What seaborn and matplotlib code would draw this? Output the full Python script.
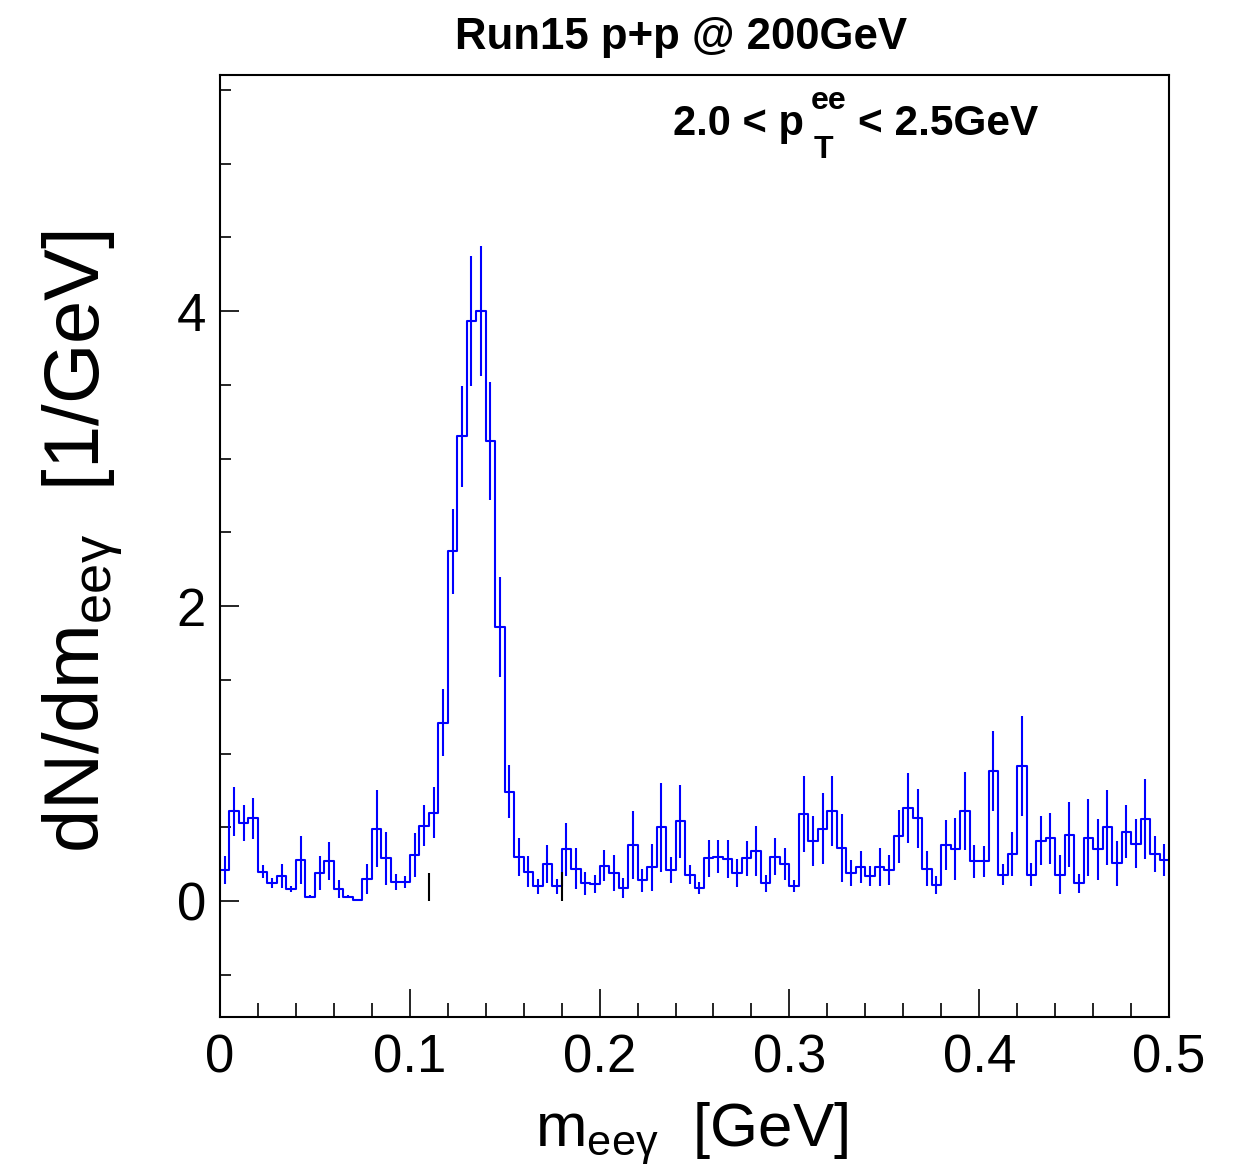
import numpy as np
import pandas as pd
import matplotlib
matplotlib.use("Agg")
import matplotlib.pyplot as plt
import seaborn as sns
from matplotlib.ticker import MultipleLocator

sns.set_theme(style="white")
plt.rcParams['font.family'] = ['Liberation Sans', 'DejaVu Sans']
plt.rcParams['mathtext.fontset'] = 'custom'
plt.rcParams['mathtext.rm'] = 'Liberation Sans'
plt.rcParams['mathtext.it'] = 'Liberation Sans:italic'
plt.rcParams['mathtext.bf'] = 'Liberation Sans:bold'
for k in ['text.color', 'axes.labelcolor', 'xtick.color', 'ytick.color']:
    plt.rcParams[k] = 'black'

# ---- data ----
bin_lo = 0.0
bin_hi = 0.5
bin_width = 0.005
counts = [0.21, 0.61, 0.53, 0.56, 0.20, 0.12, 0.17, 0.08, 0.28, 0.03,
          0.19, 0.27, 0.08, 0.03, 0.01, 0.15, 0.49, 0.29, 0.13, 0.13,
          0.31, 0.51, 0.60, 1.21, 2.37, 3.15, 3.93, 4.00, 3.12, 1.86,
          0.74, 0.30, 0.20, 0.10, 0.25, 0.10, 0.35, 0.22, 0.12, 0.115,
          0.24, 0.19, 0.09, 0.38, 0.14, 0.23, 0.50, 0.21, 0.54, 0.18,
          0.09, 0.29, 0.30, 0.285, 0.19, 0.29, 0.34, 0.12, 0.30, 0.25,
          0.10, 0.59, 0.41, 0.49, 0.61, 0.36, 0.19, 0.23, 0.17, 0.23,
          0.21, 0.44, 0.63, 0.56, 0.22, 0.11, 0.38, 0.35, 0.61, 0.27,
          0.27, 0.88, 0.18, 0.32, 0.915, 0.18, 0.41, 0.425, 0.18, 0.45,
          0.12, 0.43, 0.35, 0.50, 0.255, 0.47, 0.39, 0.555, 0.32, 0.28]
errors = [0.096, 0.166, 0.12, 0.14, 0.045, 0.034, 0.08, 0.02, 0.163, 0.01,
          0.113, 0.128, 0.062, 0.01, 0.005, 0.10, 0.26, 0.18, 0.056, 0.04,
          0.15, 0.14, 0.17, 0.23, 0.29, 0.34, 0.44, 0.44, 0.40, 0.34,
          0.18, 0.13, 0.106, 0.05, 0.127, 0.05, 0.18, 0.14, 0.08, 0.06,
          0.107, 0.12, 0.068, 0.23, 0.077, 0.16, 0.30, 0.09, 0.25, 0.064,
          0.04, 0.127, 0.113, 0.13, 0.093, 0.12, 0.17, 0.06, 0.125, 0.107,
          0.04, 0.26, 0.17, 0.24, 0.24, 0.23, 0.088, 0.11, 0.066, 0.128,
          0.10, 0.18, 0.235, 0.20, 0.12, 0.06, 0.17, 0.21, 0.265, 0.113,
          0.104, 0.27, 0.07, 0.15, 0.34, 0.08, 0.166, 0.175, 0.13, 0.22,
          0.062, 0.26, 0.205, 0.256, 0.15, 0.18, 0.167, 0.27, 0.123, 0.108]
# two black error marks of a second (empty) histogram
black_x = [0.11, 0.18]
black_top = [0.19, 0.20]

title = "Run15 p+p @ 200GeV"
annot_left = "2.0 < p"
annot_sup = "ee"
annot_sub = "T"
annot_right = "< 2.5GeV"
xlabel = r"m$_{\mathregular{ee\gamma}}$  [GeV]"
ylabel = r"dN/dm$_{\mathregular{ee\gamma}}$  [1/GeV]"

n_bins = len(counts)
centers = bin_lo + bin_width * (np.arange(n_bins) + 0.5)
df = pd.DataFrame({"m": centers, "w": counts, "err": errors})

W, H = 1236, 1169
fig = plt.figure(figsize=(W/100, H/100), dpi=100)
ax = fig.add_axes([220/W, 1 - 1017/H, (1169-220)/W, (1017-75)/H])

sns.histplot(data=df, x="m", weights="w", binwidth=bin_width,
             binrange=(bin_lo, bin_hi), element="step",
             fill=False, color="#0000ff", linewidth=1.5, ax=ax)
ax.errorbar(df["m"], df["w"], yerr=df["err"], fmt="none",
            ecolor="#0000ff", elinewidth=1.5, capsize=0)
ax.vlines(black_x, 0, black_top, color="black", linewidth=1.5)

ax.set_xlim(0, 0.5)
ax.set_ylim(-0.786, 5.6)

ax.xaxis.set_minor_locator(MultipleLocator(0.02))
ax.yaxis.set_minor_locator(MultipleLocator(0.5))
ax.set_xticks([0, 0.1, 0.2, 0.3, 0.4, 0.5])
ax.set_xticklabels(["0", "0.1", "0.2", "0.3", "0.4", "0.5"])
ax.set_yticks([0, 2, 4])
ax.set_yticklabels(["0", "2", "4"])

ax.tick_params(axis="x", which="major", direction="in", length=20, width=1.2,
               labelsize=38, pad=12, bottom=True, top=False)
ax.tick_params(axis="x", which="minor", direction="in", length=10, width=1.2,
               bottom=True, top=False)
ax.tick_params(axis="y", which="major", direction="in", length=14, width=1.2,
               labelsize=38, pad=10, left=True, right=False)
ax.tick_params(axis="y", which="minor", direction="in", length=8, width=1.2,
               left=True, right=False)

for s in ax.spines.values():
    s.set_color("black")
    s.set_linewidth(1.5)
    s.set_visible(True)

ax.set_xlabel("")
ax.set_ylabel("")
fig.text(692/W, 1 - 1146/H, xlabel, fontsize=44.5, ha="center", va="baseline")
fig.text(100/W, 1 - 542/H, ylabel, fontsize=56, rotation=90,
         ha="center", va="baseline", rotation_mode="anchor")

fig.text(681/W, 1 - 37/H, title, fontsize=31.5, fontweight="bold",
         ha="center", va="center")

# annotation with stacked sub/superscript as in the reference
fig.text(673/W, 1 - 135/H, annot_left, fontsize=30, fontweight="bold",
         ha="left", va="baseline")
fig.text(811/W, 1 - 109/H, annot_sup, fontsize=23, fontweight="bold",
         ha="left", va="baseline")
fig.text(814/W, 1 - 158/H, annot_sub, fontsize=23, fontweight="bold",
         ha="left", va="baseline")
fig.text(858/W, 1 - 135/H, annot_right, fontsize=30.5, fontweight="bold",
         ha="left", va="baseline")

fig.savefig("out.png", dpi=100, facecolor="white")
